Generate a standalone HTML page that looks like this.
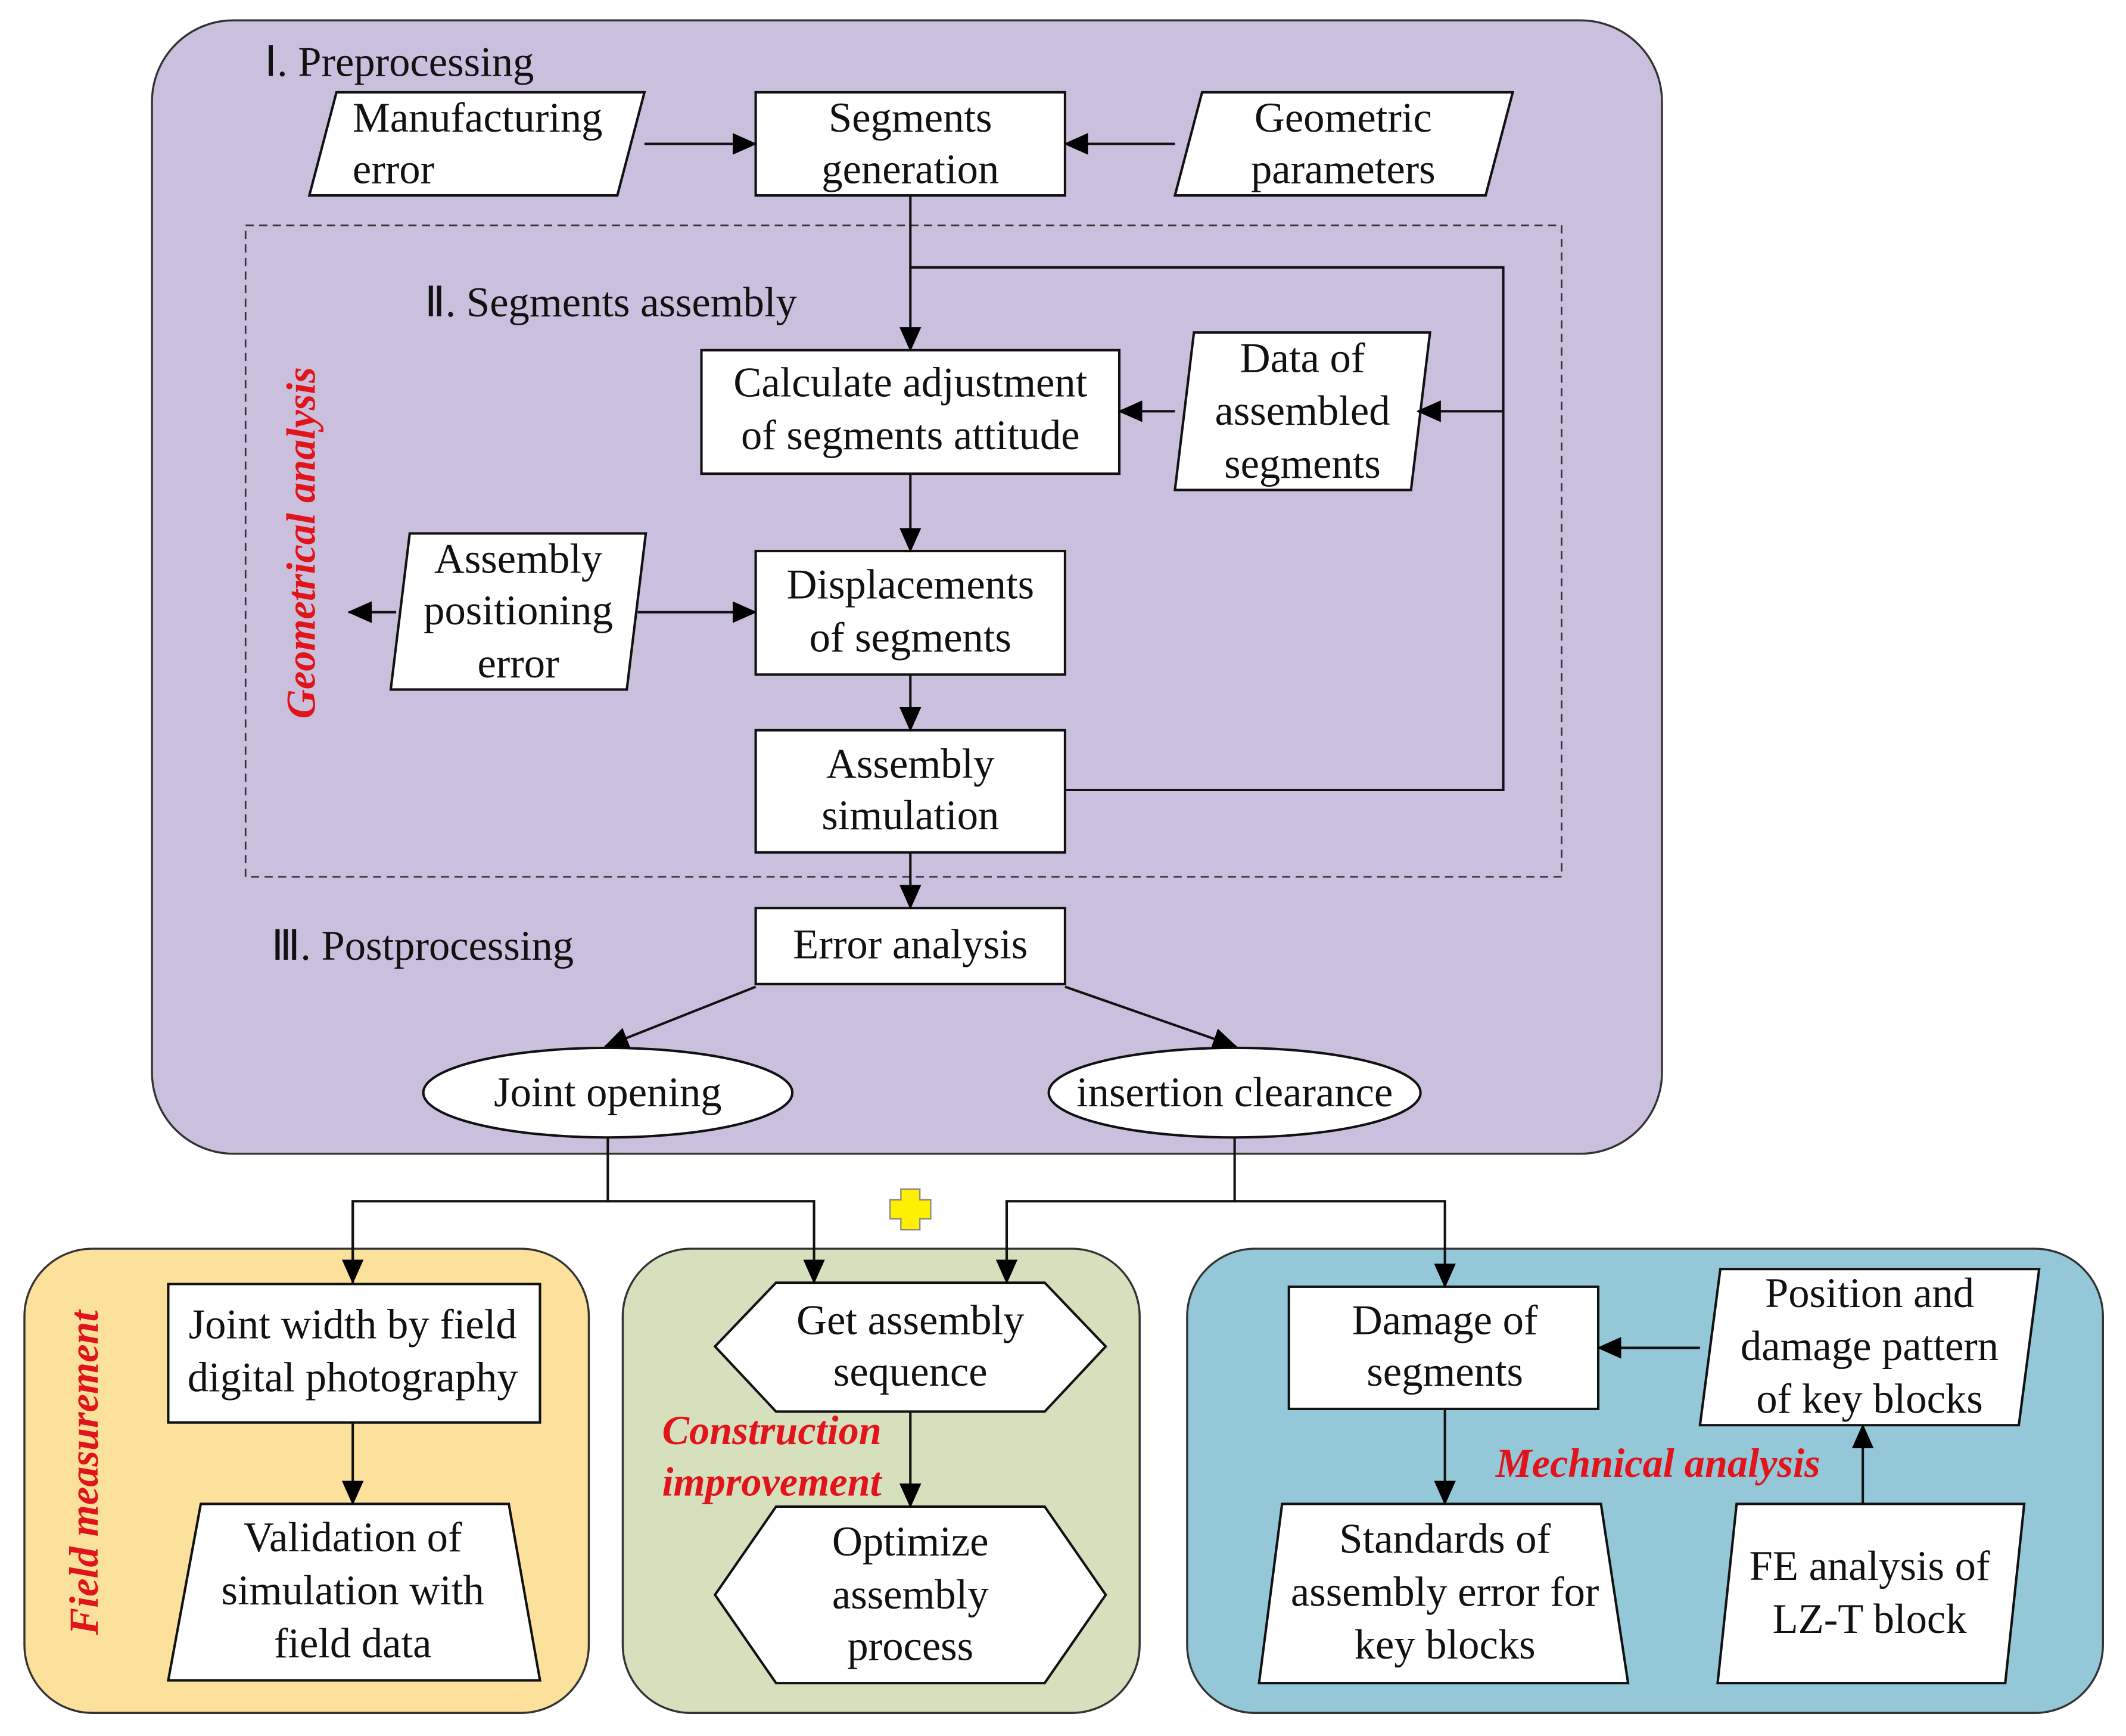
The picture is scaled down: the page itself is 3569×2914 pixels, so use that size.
<!DOCTYPE html>
<html><head><meta charset="utf-8"><style>
html,body{margin:0;padding:0;background:#fff;}
svg{display:block;}
text{font-family:"Liberation Serif",serif;font-size:31px;fill:#111;text-anchor:middle;}
.red{fill:#e0141a;font-weight:bold;font-style:italic;font-size:30px;}
.l{text-anchor:start;}
</style></head><body>
<svg width="3569" height="2914" viewBox="0 0 1567 1279" preserveAspectRatio="none" xmlns="http://www.w3.org/2000/svg">
<defs>
<marker id="b" markerWidth="18" markerHeight="16" refX="17" refY="8" orient="auto" markerUnits="userSpaceOnUse"><path d="M0,0 L18,8 L0,16 z" fill="#000"/></marker></defs>
<g stroke="#333" stroke-width="1.5">
<rect x="112" y="15" width="1113" height="835" rx="60" fill="#cabfdc"/>
<rect x="18" y="920" width="416" height="342" rx="50" fill="#fbe19c"/>
<rect x="459" y="920" width="381" height="342" rx="50" fill="#d6e0bd"/>
<rect x="875" y="920" width="675" height="342" rx="50" fill="#94c8d9"/>
<rect x="181" y="166" width="970" height="480" fill="none" stroke-dasharray="6,4" stroke-width="1.2"/>
</g>
<g stroke="#111" stroke-width="1.8" fill="#fff">
<polygon points="248,68 475,68 455,144 228,144"/>
<rect x="557" y="68" width="228" height="76"/>
<polygon points="886,68 1115,68 1095,144 866,144"/>
<rect x="517" y="258" width="308" height="91"/>
<polygon points="880,245 1054,245 1040,361 866,361"/>
<polygon points="302,393 476,393 462,508 288,508"/>
<rect x="557" y="406" width="228" height="91"/>
<rect x="557" y="538" width="228" height="90"/>
<rect x="557" y="669" width="228" height="56"/>
<ellipse cx="448" cy="805" rx="136" ry="33"/>
<ellipse cx="910" cy="805" rx="137" ry="33"/>
<rect x="124" y="946" width="274" height="102"/>
<polygon points="148,1108 375,1108 398,1238 124,1238"/>
<polygon points="572,945 770,945 815,992 770,1040 572,1040 527,992"/>
<polygon points="572,1110 770,1110 815,1175 770,1240 572,1240 527,1175"/>
<rect x="950" y="948" width="228" height="90"/>
<polygon points="1268,935 1503,935 1488,1050 1253,1050"/>
<polygon points="945,1108 1180,1108 1200,1240 928,1240"/>
<polygon points="1280,1108 1492,1108 1478,1240 1266,1240"/>
</g>
<g stroke="#111" stroke-width="1.8" fill="none">
<line x1="475" y1="106" x2="557" y2="106" marker-end="url(#b)"/>
<line x1="866" y1="106" x2="785" y2="106" marker-end="url(#b)"/>
<line x1="671" y1="144" x2="671" y2="258" marker-end="url(#b)"/>
<polyline points="671,197 1108,197 1108,582 785,582"/>
<line x1="1108" y1="303" x2="1045" y2="303" marker-end="url(#b)"/>
<line x1="866" y1="303" x2="825" y2="303" marker-end="url(#b)"/>
<line x1="671" y1="349" x2="671" y2="406" marker-end="url(#b)"/>
<line x1="671" y1="497" x2="671" y2="538" marker-end="url(#b)"/>
<line x1="671" y1="628" x2="671" y2="669" marker-end="url(#b)"/>
<line x1="470" y1="451" x2="557" y2="451" marker-end="url(#b)"/>
<line x1="292" y1="451" x2="257" y2="451" marker-end="url(#b)"/>
<line x1="557" y1="727" x2="446" y2="771" marker-end="url(#b)"/>
<line x1="785" y1="727" x2="911" y2="771" marker-end="url(#b)"/>
<polyline points="448,838 448,885"/>
<polyline points="260,945 260,885 600,885 600,945" marker-end="url(#b)"/>
<line x1="260" y1="885" x2="260" y2="945" marker-end="url(#b)"/>
<polyline points="910,838 910,885"/>
<polyline points="742,945 742,885 1065,885 1065,948" marker-end="url(#b)"/>
<line x1="742" y1="885" x2="742" y2="945" marker-end="url(#b)"/>
<line x1="260" y1="1048" x2="260" y2="1108" marker-end="url(#b)"/>
<line x1="671" y1="1040" x2="671" y2="1110" marker-end="url(#b)"/>
<line x1="1253" y1="993" x2="1178" y2="993" marker-end="url(#b)"/>
<line x1="1065" y1="1038" x2="1065" y2="1108" marker-end="url(#b)"/>
<line x1="1373" y1="1108" x2="1373" y2="1050" marker-end="url(#b)"/>
</g>
<path d="M664,876 h14 v8 h8 v14 h-8 v8 h-14 v-8 h-8 v-14 h8 z" fill="#ffef00" stroke="#888" stroke-width="1"/>
<text class="l" x="195" y="56">Ⅰ. Preprocessing</text>
<text x="352" y="97">Manufacturing</text><text x="290" y="135">error</text>
<text x="671" y="97">Segments</text><text x="671" y="135">generation</text>
<text x="990" y="97">Geometric</text><text x="990" y="135">parameters</text>
<text class="l" x="313" y="233">Ⅱ. Segments assembly</text>
<text x="671" y="292">Calculate adjustment</text><text x="671" y="331">of segments attitude</text>
<text x="960" y="274">Data of</text><text x="960" y="313">assembled</text><text x="960" y="352">segments</text>
<text x="382" y="422">Assembly</text><text x="382" y="460">positioning</text><text x="382" y="499">error</text>
<text x="671" y="441">Displacements</text><text x="671" y="480">of segments</text>
<text x="671" y="573">Assembly</text><text x="671" y="611">simulation</text>
<text class="red" transform="translate(232,400) rotate(-90)">Geometrical analysis</text>
<text class="l" x="200" y="707">Ⅲ. Postprocessing</text>
<text x="671" y="706">Error analysis</text>
<text x="448" y="815">Joint opening</text>
<text x="910" y="815">insertion clearance</text>
<text class="red" transform="translate(72,1085) rotate(-90)">Field measurement</text>
<text x="260" y="986">Joint width by field</text><text x="260" y="1025">digital photography</text>
<text x="260" y="1143">Validation of</text><text x="260" y="1182">simulation with</text><text x="260" y="1221">field data</text>
<text x="671" y="983">Get assembly</text><text x="671" y="1021">sequence</text>
<text class="red l" x="488" y="1064">Construction</text><text class="red l" x="488" y="1102">improvement</text>
<text x="671" y="1146">Optimize</text><text x="671" y="1185">assembly</text><text x="671" y="1223">process</text>
<text x="1065" y="983">Damage of</text><text x="1065" y="1021">segments</text>
<text x="1378" y="963">Position and</text><text x="1378" y="1002">damage pattern</text><text x="1378" y="1041">of key blocks</text>
<text class="red" x="1222" y="1088">Mechnical analysis</text>
<text x="1065" y="1144">Standards of</text><text x="1065" y="1183">assembly error  for</text><text x="1065" y="1222">key blocks</text>
<text x="1378" y="1164">FE analysis of</text><text x="1378" y="1203">LZ-T block</text>
</svg>
</body></html>
